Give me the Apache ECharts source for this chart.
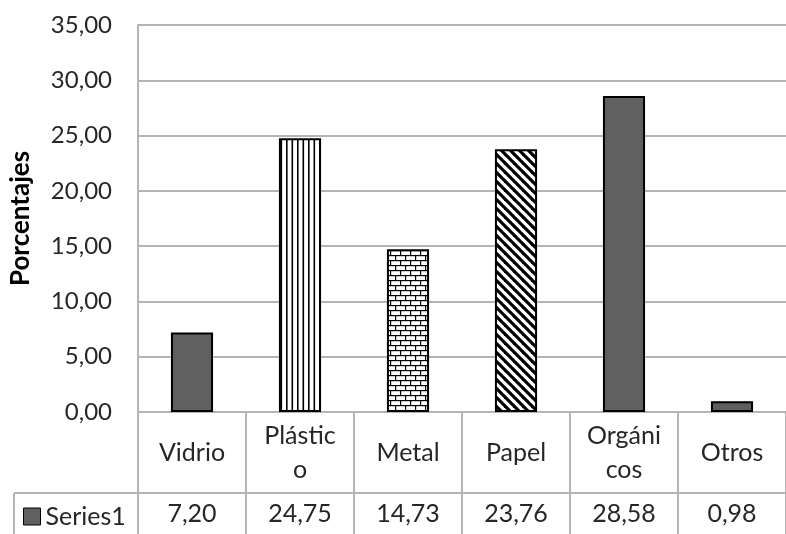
<!DOCTYPE html>
<html>
<head>
<meta charset="utf-8">
<script src="https://cdn.jsdelivr.net/npm/echarts@6/dist/echarts.min.js"></script>
<style>
  html, body { margin: 0; padding: 0; background: #fff; }
  #chart { width: 786px; height: 534px; }
</style>
</head>
<body>
<div id="chart"></div>
<script>
// Composición de residuos (%)
const categories = ['Vidrio', 'Plástico', 'Metal', 'Papel', 'Orgánicos', 'Otros'];
const categoryLabels = ['Vidrio', 'Plástic\no', 'Metal', 'Papel', 'Orgáni\ncos', 'Otros'];
const values = [7.20, 24.75, 14.73, 23.76, 28.58, 0.98];
const seriesName = 'Series1';
const yTicks = { min: 0, max: 35, interval: 5 };
const axisTitle = 'Porcentajes';

const FONT = 'Lato';
const TEXT = '#262626';
const GRID = '#b4b4b4';
const BAR = '#606060';

function fmt(v) { return v.toFixed(2).replace('.', ','); }

// Fill patterns drawn on small canvases
function makeCanvas(w, h, draw) {
  const c = document.createElement('canvas');
  c.width = w; c.height = h;
  const ctx = c.getContext('2d');
  ctx.fillStyle = '#fff';
  ctx.fillRect(0, 0, w, h);
  draw(ctx);
  return c;
}
const vLines = makeCanvas(11, 11, ctx => {
  ctx.fillStyle = '#000';
  ctx.fillRect(0, 0, 1.6, 11);
  ctx.fillRect(5.5, 0, 1.6, 11);
});
const bricks = makeCanvas(10, 10, ctx => {
  ctx.fillStyle = '#000';
  ctx.fillRect(0, 0, 10, 1.2);
  ctx.fillRect(0, 5, 10, 1.2);
  ctx.fillRect(0, 0, 1.2, 5);
  ctx.fillRect(5, 5, 1.2, 5);
});
const diag = makeCanvas(9, 9, ctx => {
  ctx.strokeStyle = '#000';
  ctx.lineWidth = 3.2;
  for (let k = -1; k <= 1; k++) {
    ctx.beginPath();
    ctx.moveTo(k * 9 - 2, -2);
    ctx.lineTo(k * 9 + 11, 11);
    ctx.stroke();
  }
});
const fills = [
  BAR,
  { image: vLines, repeat: 'repeat' },
  { image: bricks, repeat: 'repeat' },
  { image: diag, repeat: 'repeat' },
  BAR,
  BAR
];

const chart = echarts.init(document.getElementById('chart'), null, { renderer: 'canvas' });

const option = {
  animation: false,
  backgroundColor: '#fff',
  textStyle: { fontFamily: FONT, color: TEXT },
  grid: { left: 135, top: 25, width: 666, height: 387, containLabel: false },
  legend: {
    data: [seriesName],
    left: 23, top: 504,
    padding: 0,
    icon: 'rect',
    itemWidth: 17, itemHeight: 17, itemGap: 4,
    itemStyle: { color: BAR, borderColor: '#000', borderWidth: 1 },
    textStyle: { fontFamily: FONT, fontSize: 25, color: TEXT }
  },
  xAxis: [
    {
      type: 'category',
      position: 'bottom',
      data: categories,
      axisLine: { show: true, lineStyle: { color: GRID, width: 2 } },
      axisTick: { show: true, length: 125, lineStyle: { color: GRID, width: 2 } },
      axisLabel: {
        margin: 41,
        verticalAlign: 'middle',
        fontSize: 25, lineHeight: 34, color: TEXT, fontFamily: FONT,
        interval: 0,
        formatter: (v, i) => categoryLabels[i]
      }
    },
    {
      type: 'category',
      position: 'bottom',
      data: values.map(fmt),
      axisLine: { show: false },
      axisTick: { show: false },
      axisLabel: {
        margin: 102,
        verticalAlign: 'middle',
        fontSize: 25, color: TEXT, fontFamily: FONT,
        interval: 0
      }
    }
  ],
  yAxis: {
    type: 'value',
    min: yTicks.min, max: yTicks.max, interval: yTicks.interval,
    name: axisTitle,
    nameLocation: 'middle',
    nameRotate: 90,
    nameGap: 104,
    nameTextStyle: { fontFamily: FONT, fontSize: 26, fontWeight: 'bold', color: '#000' },
    axisLine: { show: true, lineStyle: { color: GRID, width: 2 } },
    axisTick: { show: false },
    axisLabel: {
      margin: 26, fontSize: 24, color: TEXT, fontFamily: FONT,
      formatter: v => fmt(v)
    },
    splitLine: { show: true, lineStyle: { color: GRID, width: 2 } }
  },
  series: [{
    name: seriesName,
    type: 'bar',
    xAxisIndex: 0,
    barWidth: '39%',
    itemStyle: { color: BAR, borderColor: '#000', borderWidth: 2 },
    data: values.map((v, i) => ({ value: v, itemStyle: { color: fills[i] } }))
  }],
  graphic: [
    { type: 'line', shape: { x1: 14, y1: 493, x2: 786, y2: 493 },
      style: { stroke: GRID, lineWidth: 2 }, z: 10 },
    { type: 'line', shape: { x1: 14, y1: 493, x2: 14, y2: 534 },
      style: { stroke: GRID, lineWidth: 2 }, z: 10 }
  ]
};

chart.setOption(option);
</script>
</body>
</html>
